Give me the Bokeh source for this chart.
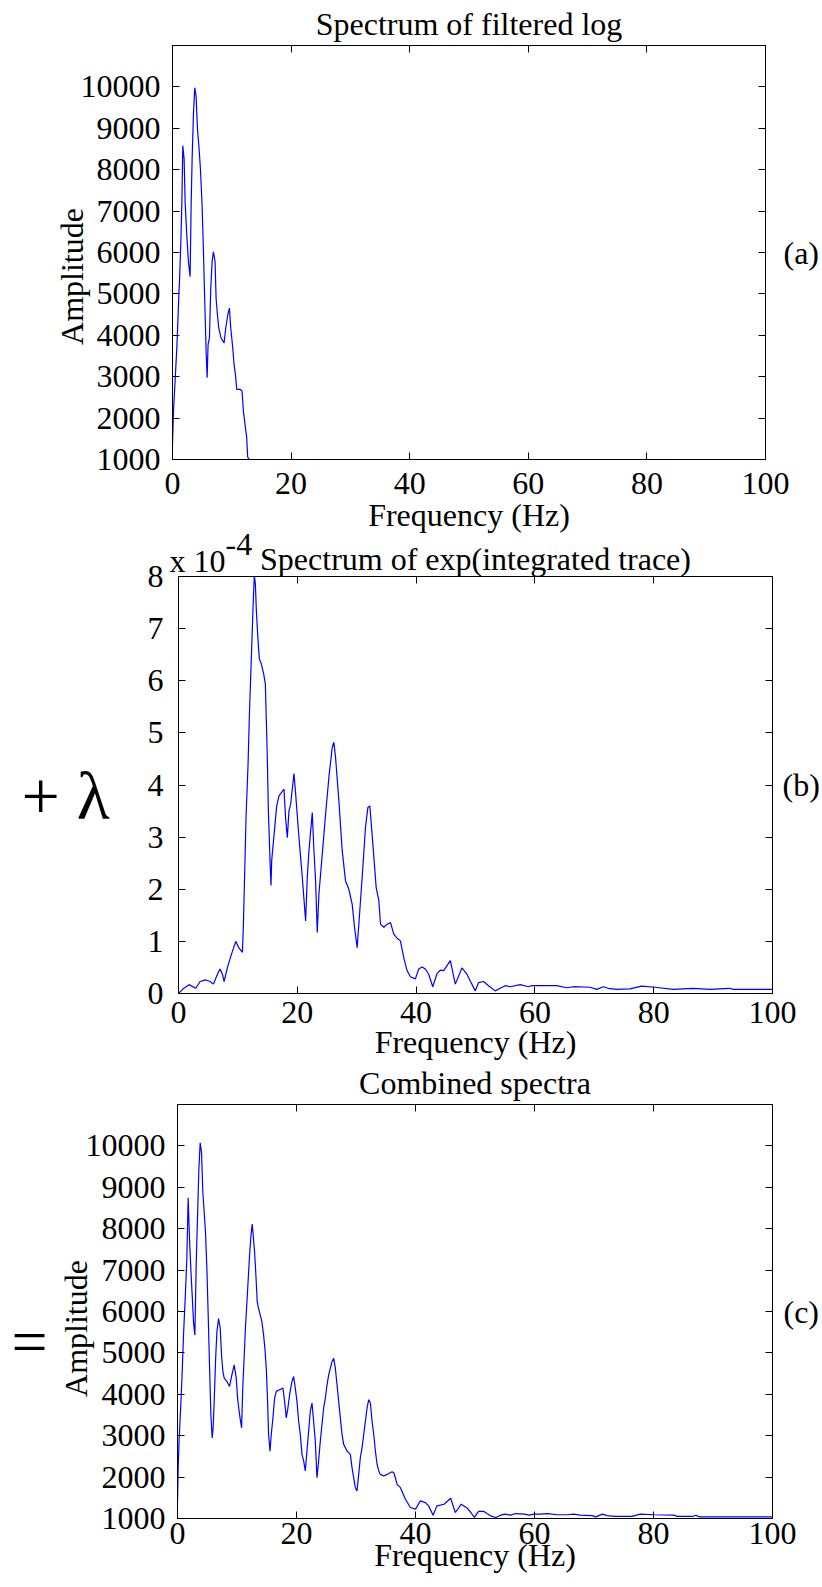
import math
from bokeh.plotting import figure
from bokeh.layouts import column
from bokeh.models import Range1d, LinearAxis, FixedTicker, Label
from bokeh.embed import file_html
from bokeh.resources import INLINE

FONT = "Liberation Serif"
FS = "32px"
BLUE = "#0000ff"

# ---------------- data ----------------
freq_ticks = [0, 20, 40, 60, 80, 100]
amp_ticks = [1000, 2000, 3000, 4000, 5000, 6000, 7000, 8000, 9000, 10000]
exp_ticks = [0, 1, 2, 3, 4, 5, 6, 7, 8]

# (a) Spectrum of filtered log
freq_a = [0.0, 0.17, 0.45, 0.73, 0.95, 1.07, 1.18, 1.40, 1.57, 1.74, 1.96, 2.13, 2.41, 2.69,
          2.97, 3.14, 3.31, 3.54, 3.76, 3.98, 4.21, 4.49, 4.71, 4.99, 5.22, 5.44, 5.67, 5.84,
          6.00, 6.23, 6.45, 6.68, 6.90, 7.18, 7.35, 7.58, 7.80, 8.19, 8.70, 8.98, 9.32, 9.60,
          9.82, 10.16, 10.38, 10.61, 10.83, 11.39, 11.73, 11.95, 12.29, 12.51, 12.68, 12.96,
          20.0, 40.0, 60.0, 80.0, 100.0]
amp_a = [1376, 2176, 2936, 3696, 4496, 4976, 5312, 6216, 7136, 8576, 8256, 7216, 6416, 5776,
         5416, 7136, 8256, 9376, 9976, 9776, 8976, 8496, 8016, 7136, 6016, 4816, 3616, 2976,
         3776, 3936, 5136, 5776, 6016, 5776, 4896, 4496, 4176, 3936, 3816, 4176, 4496, 4656,
         4176, 3696, 3296, 3056, 2696, 2696, 2656, 2176, 1776, 1536, 1056, 1000,
         1000, 1000, 1000, 1000, 1000]

# (b) Spectrum of exp(integrated trace), values in units of 1e-4
freq_b = [0.0, 0.67, 1.79, 2.91, 3.64, 4.59, 5.32, 5.88, 6.55, 7.00, 7.39, 7.68, 8.24, 8.91,
          9.64, 10.20, 10.76, 10.92, 11.15, 11.37, 11.71, 11.93, 12.16, 12.38, 12.61, 12.77,
          12.94, 13.11, 13.39, 13.61, 13.95, 14.34, 14.62, 14.85, 14.96, 15.13, 15.41, 15.57,
          15.69, 15.97, 16.25, 16.53, 16.92, 17.76, 18.04, 18.32, 18.60, 18.88, 19.44, 19.72,
          20.28, 20.84, 21.40, 21.68, 21.96, 22.52, 22.80, 23.08, 23.36, 23.64, 24.20, 24.76,
          25.32, 25.88, 26.16, 26.44, 27.00, 27.56, 28.12, 28.68, 29.24, 29.64, 30.08, 30.36,
          30.92, 31.48, 31.88, 32.21, 32.72, 33.28, 33.73, 34.01, 34.57, 35.13, 35.69, 36.25,
          36.80, 37.36, 37.92, 38.48, 39.04, 39.88, 40.44, 41.00, 41.56, 42.12, 42.80, 43.52,
          44.08, 44.64, 45.76, 46.60, 47.72, 48.56, 49.12, 49.96, 50.52, 51.36, 52.20, 53.32,
          54.16, 55.00, 55.84, 57.52, 58.92, 59.48, 60.88, 63.68, 65.36, 66.48, 69.28, 70.40,
          71.52, 72.36, 73.76, 76.00, 77.96, 80.20, 83.28, 86.64, 89.44, 92.80, 93.36, 100.0]
exp_b = [0.00, 0.08, 0.17, 0.10, 0.23, 0.26, 0.23, 0.18, 0.37, 0.47, 0.37, 0.23, 0.50, 0.75,
         1.00, 0.87, 0.79, 1.30, 2.35, 3.38, 4.40, 5.33, 6.10, 6.83, 7.60, 8.02,
         7.86, 7.34, 6.77, 6.42, 6.32, 6.13, 5.94, 4.98, 4.47, 3.51, 2.55, 2.07,
         2.55, 2.90, 3.25, 3.60, 3.79, 3.92, 3.35, 2.99, 3.51, 3.63, 4.22, 3.83,
         2.99, 2.23, 1.39, 2.23, 2.74, 3.47, 2.74, 2.16, 1.17, 1.91, 2.67, 3.44,
         4.15, 4.72, 4.82, 4.53, 3.70, 2.74, 2.16, 2.00, 1.71, 1.27, 0.88, 1.33,
         2.23, 3.19, 3.57, 3.60, 2.87, 2.03, 1.78, 1.33, 1.27, 1.33, 1.36, 1.14,
         1.06, 1.01, 0.69, 0.44, 0.32, 0.28, 0.47, 0.51, 0.47, 0.37, 0.13, 0.38,
         0.45, 0.44, 0.63, 0.18, 0.49, 0.37, 0.24, 0.05, 0.21, 0.23, 0.15, 0.05,
         0.10, 0.15, 0.13, 0.17, 0.13, 0.15, 0.15, 0.15, 0.11, 0.13, 0.12, 0.08,
         0.13, 0.10, 0.08, 0.09, 0.14, 0.12, 0.08, 0.10, 0.08, 0.10, 0.08, 0.08]

# (c) Combined spectra
freq_c = [0.0, 0.11, 0.28, 0.56, 0.79, 1.01, 1.29, 1.57, 1.79, 2.02, 2.24, 2.47, 2.69, 2.92,
          3.14, 3.37, 3.59, 3.81, 4.04, 4.26, 4.49, 4.71, 4.94, 5.16, 5.38, 5.61, 5.83, 6.00,
          6.17, 6.39, 6.62, 6.90, 7.18, 7.40, 7.63, 7.85, 8.30, 8.75, 9.14, 9.53, 9.87, 10.10,
          10.43, 10.77, 10.99, 11.22, 11.44, 11.67, 11.89, 12.11, 12.34, 12.56, 12.73, 12.96,
          13.18, 13.40, 13.63, 13.91, 14.19, 14.47, 14.69, 14.92, 15.14, 15.31, 15.54, 15.76,
          16.04, 16.32, 16.60, 17.16, 17.72, 18.00, 18.28, 18.56, 18.84, 19.24, 19.52, 19.80,
          20.08, 20.36, 20.64, 20.92, 21.20, 21.48, 21.76, 22.04, 22.32, 22.60, 22.88, 23.16,
          23.44, 23.72, 24.00, 24.28, 24.57, 24.85, 25.13, 25.41, 25.69, 25.97, 26.25, 26.53,
          26.81, 27.09, 27.37, 27.65, 27.93, 28.49, 29.05, 29.33, 29.61, 29.89, 30.17, 30.45,
          30.73, 31.02, 31.30, 31.58, 31.86, 32.14, 32.42, 32.70, 32.98, 33.26, 33.54, 33.82,
          34.10, 34.66, 35.22, 36.06, 36.34, 36.62, 36.90, 37.47, 38.30, 39.15, 40.00, 40.80,
          41.67, 42.20, 42.96, 43.60, 44.80, 45.90, 46.70, 47.70, 48.70, 49.30, 49.90, 50.60,
          51.50, 52.60, 53.50, 54.30, 55.10, 56.00, 56.80, 58.30, 59.10, 59.90, 61.00, 62.20,
          63.80, 65.50, 66.60, 67.70, 69.70, 70.30, 71.40, 72.20, 73.60, 76.40, 77.80, 80.10,
          83.40, 84.00, 86.60, 87.10, 87.70, 100.0]
amp_c = [1385, 2185, 2946, 3750, 4550, 5430, 6310, 7270, 8750, 7750, 7030, 6390, 5750, 5430,
         7110, 8310, 9430, 10075, 9835, 8875, 8390, 7910, 7030, 5910, 4710, 3510, 2946, 3230,
         3830, 4790, 5510, 5830, 5590, 4950, 4550, 4390, 4310, 4190, 4470, 4710, 4390, 3900,
         3510, 3190, 4230, 4950, 5670, 6230, 6790, 7350, 7830, 8110, 7830, 7430,
         6870, 6230, 6070, 5910, 5750, 5430, 5110, 4630, 3830, 3030, 2626, 3030,
         3430, 3910, 4070, 4110, 4150, 3830, 3430, 3670, 3990, 4310, 4430, 4150,
         3830, 3350, 3030, 2550, 2390, 2150, 2630, 3110, 3590, 3790, 3350, 2870,
         1985, 2390, 2870, 3270, 3670, 3910, 4230, 4470, 4630, 4790, 4870, 4630,
         4230, 3830, 3430, 3030, 2790, 2630, 2550, 2230, 1985, 1745, 1665, 2065,
         2470, 2710, 3030, 3350, 3670, 3870, 3790, 3350, 3030, 2630, 2310, 2150,
         2065, 2025, 2065, 2130, 2105, 1985, 1825, 1745, 1465, 1265, 1225, 1425,
         1385, 1305, 1080, 1305, 1345, 1490, 1145, 1345, 1250, 1145, 1025, 1170,
         1170, 1065, 1025, 1080, 1105, 1080, 1120, 1105, 1080, 1105, 1105, 1120,
         1090, 1090, 1105, 1080, 1070, 1040, 1105, 1070, 1050, 1050, 1105, 1090,
         1080, 1050, 1050, 1080, 1040, 1040]

PAGE_W, PAGE_H = 822, 1587


def make_panel(height, b_top, b_bottom, b_left, b_right, yr, yticks, title, title_standoff=0,
               tick_standoff=8, label_standoff=-4, ylab_standoff=12, margin=None):
    p = figure(width=PAGE_W, height=height, output_backend="svg", toolbar_location=None,
               x_range=Range1d(0, 100), y_range=Range1d(*yr),
               min_border_top=b_top, min_border_bottom=b_bottom,
               min_border_left=b_left, min_border_right=b_right,
               title=title, frame_align=False)
    if margin is not None:
        p.margin = margin
    p.border_fill_color = None
    p.background_fill_color = "white"
    p.outline_line_color = "black"
    p.outline_line_width = 1
    p.xgrid.visible = False
    p.ygrid.visible = False
    p.title.text_font = FONT
    p.title.text_font_size = FS
    p.title.text_font_style = "normal"
    p.title.text_color = "black"
    p.title.align = "center"
    p.title.standoff = title_standoff

    for ax, ticks in ((p.xaxis[0], freq_ticks), (p.yaxis[0], yticks)):
        ax.ticker = FixedTicker(ticks=ticks)
        ax.major_tick_in = 7
        ax.major_tick_out = 0
        ax.minor_tick_line_color = None
        ax.axis_line_color = "black"
        ax.major_tick_line_color = "black"
        ax.major_label_text_font = FONT
        ax.major_label_text_font_size = FS
        ax.major_label_text_color = "black"
        ax.axis_label_text_font = FONT
        ax.axis_label_text_font_size = FS
        ax.axis_label_text_font_style = "normal"
        ax.axis_label_text_color = "black"
    p.xaxis[0].major_label_standoff = tick_standoff
    p.yaxis[0].major_label_standoff = ylab_standoff
    p.xaxis[0].axis_label = "Frequency (Hz)"
    p.xaxis[0].axis_label_standoff = label_standoff

    # mirrored ticks on top (no labels)
    top = LinearAxis(ticker=FixedTicker(ticks=freq_ticks), major_tick_in=7, major_tick_out=0,
                     minor_tick_line_color=None, major_label_text_font_size="1px",
                     major_label_text_color=None, major_label_standoff=0,
                     axis_line_color="black")
    p.add_layout(top, "above")
    return p


def add_right_tag(p, yticks, text, standoff):
    ax = LinearAxis(ticker=FixedTicker(ticks=yticks), major_tick_in=7, major_tick_out=0,
                    minor_tick_line_color=None, major_label_text_font_size="1px",
                    major_label_text_color=None, major_label_standoff=0,
                    axis_line_color="black", axis_label=text,
                    axis_label_orientation="horizontal", axis_label_standoff=standoff,
                    axis_label_text_font=FONT, axis_label_text_font_size=FS,
                    axis_label_text_font_style="normal", axis_label_text_color="black")
    p.add_layout(ax, "right")


# ---------- background sheet holding the free-standing texts (page pixel coords) ----------
bg = figure(width=PAGE_W, height=PAGE_H, output_backend="svg", toolbar_location=None,
            x_range=Range1d(0, PAGE_W), y_range=Range1d(PAGE_H, 0), min_border=0,
            x_axis_type=None, y_axis_type=None, title=None, frame_align=False)
bg.outline_line_color = None
bg.background_fill_color = "white"
bg.border_fill_color = "white"


def add_text(x, y, text, size=FS, align="center", angle=0.0):
    bg.add_layout(Label(x=x, y=y, text=text, text_font=FONT, text_font_size=size,
                        text_align=align, text_baseline="middle", angle=angle,
                        text_color="black"))


add_text(71, 276, "Amplitude", angle=math.pi / 2)      # y label (a)
add_text(169, 560, "x 10", align="left")               # exponent of (b)
add_text(225, 544, "-4", align="left")
add_text(21, 795, "+ \u03bb", size="68px", align="left")
add_text(75, 1328, "Amplitude", angle=math.pi / 2)     # y label (c)
add_text(29, 1341, "=", size="64px")

# ---------------- panel (a) ----------------
pa = make_panel(540, 43, 81, 172, 56, (1000, 11000), amp_ticks, "Spectrum of filtered log",
                title_standoff=7, tick_standoff=13, label_standoff=0,
                margin=(-PAGE_H, 0, 0, 0))
add_right_tag(pa, amp_ticks, "(a)", 18)
pa.line(freq_a, amp_a, line_color=BLUE, line_width=1.2)

# ---------------- panel (b) ----------------
pb = make_panel(548, 54, 77, 178, 50, (0, 8), exp_ticks, "Spectrum of exp(integrated trace)",
                title_standoff=0, tick_standoff=8, label_standoff=-2, ylab_standoff=15,
                margin=(-18, 0, 0, 0))
add_right_tag(pb, exp_ticks, "(b)", 10)
pb.line(freq_b, exp_b, line_color=BLUE, line_width=1.2)

# ---------------- panel (c) ----------------
pc = make_panel(529, 45, 69, 177, 50, (1000, 11000), amp_ticks, "Combined spectra",
                title_standoff=8, tick_standoff=4, label_standoff=-10,
                margin=(-12, 0, 0, 0))
add_right_tag(pc, amp_ticks, "(c)", 11)
pc.line(freq_c, amp_c, line_color=BLUE, line_width=1.2)

layout = column(bg, pa, pb, pc)
open("out.html", "w").write(file_html(layout, INLINE))
